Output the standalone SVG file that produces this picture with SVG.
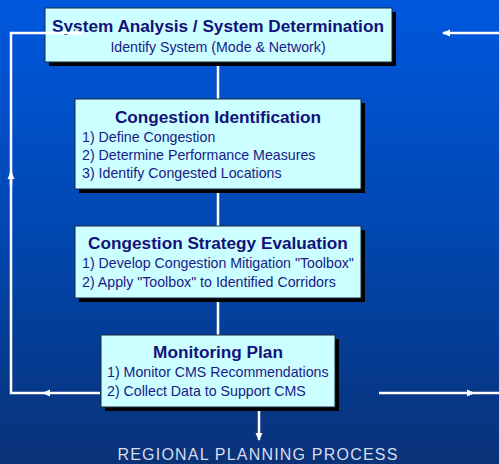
<svg xmlns="http://www.w3.org/2000/svg" width="499" height="464" viewBox="0 0 499 464">
<defs>
<linearGradient id="bg" x1="0" y1="0" x2="0" y2="1">
<stop offset="0" stop-color="#0058de"/>
<stop offset="0.5" stop-color="#0047b0"/>
<stop offset="1" stop-color="#0a3278"/>
</linearGradient>
<marker id="ah" markerWidth="8" markerHeight="8" refX="7" refY="4" orient="auto" markerUnits="userSpaceOnUse">
<path d="M0,0.5 L8,4 L0,7.5 Z" fill="#ffffff"/>
</marker>
<style>
.box{fill:#ccffff;stroke:#1a2a40;stroke-width:1}
.sh{fill:#000000}
.t{font-family:"Liberation Sans",Arial,sans-serif;font-weight:bold;font-size:17.2px;fill:#12127a;text-anchor:middle}
.i{font-family:"Liberation Sans",Arial,sans-serif;font-size:14.2px;fill:#1a1a88}
.c{fill:none;stroke:#ffffff;stroke-width:2.5}
</style>
</defs>
<rect width="499" height="464" fill="url(#bg)"/>
<g id="connectors-back">
<line class="c" x1="218" y1="62" x2="218" y2="99"/>
<line class="c" x1="218" y1="189" x2="218" y2="226"/>
<line class="c" x1="218" y1="298" x2="218" y2="335"/>
</g>
<g id="n1">
<rect class="sh" x="49" y="12" width="347" height="54"/>
<rect class="box" x="45" y="8" width="347" height="54"/>
<text class="t" x="218" y="32">System Analysis / System Determination</text>
<text class="i" x="218" y="52" text-anchor="middle">Identify System (Mode &amp; Network)</text>
</g>
<g id="n2">
<rect class="sh" x="79" y="103" width="286" height="90"/>
<rect class="box" x="75" y="99" width="286" height="90"/>
<text class="t" x="218" y="123">Congestion Identification</text>
<text class="i" x="82" y="142">1) Define Congestion</text>
<text class="i" x="82" y="160">2) Determine Performance Measures</text>
<text class="i" x="82" y="178">3) Identify Congested Locations</text>
</g>
<g id="n3">
<rect class="sh" x="79" y="230" width="286" height="72"/>
<rect class="box" x="75" y="226" width="286" height="72"/>
<text class="t" x="218" y="249">Congestion Strategy Evaluation</text>
<text class="i" x="82" y="268">1) Develop Congestion Mitigation "Toolbox"</text>
<text class="i" x="82" y="287">2) Apply "Toolbox" to Identified Corridors</text>
</g>
<g id="n4">
<rect class="sh" x="105" y="339" width="234" height="72"/>
<rect class="box" x="101" y="335" width="234" height="72"/>
<text class="t" x="218" y="358">Monitoring Plan</text>
<text class="i" x="107" y="377">1) Monitor CMS Recommendations</text>
<text class="i" x="107" y="396">2) Collect Data to Support CMS</text>
</g>
<g id="connectors">
<line class="c" x1="100" y1="393" x2="43" y2="393" marker-end="url(#ah)"/>
<polyline class="c" points="43,393 11,393 11,172"/>
<line class="c" x1="11" y1="186" x2="11" y2="172" marker-end="url(#ah)"/>
<polyline class="c" points="11,172 11,33 82,33" marker-end="url(#ah)"/>
<line class="c" x1="499" y1="33" x2="443" y2="33" marker-end="url(#ah)"/>
<line class="c" x1="379" y1="393" x2="474" y2="393" marker-end="url(#ah)"/>
<line class="c" x1="474" y1="393" x2="499" y2="393"/>
<line class="c" x1="259" y1="411" x2="259" y2="440" marker-end="url(#ah)"/>
</g>
<text x="258" y="460" font-family="'Liberation Sans',Arial,sans-serif" font-size="16" fill="#d8dcec" text-anchor="middle" letter-spacing="1.2">REGIONAL PLANNING PROCESS</text>
</svg>
